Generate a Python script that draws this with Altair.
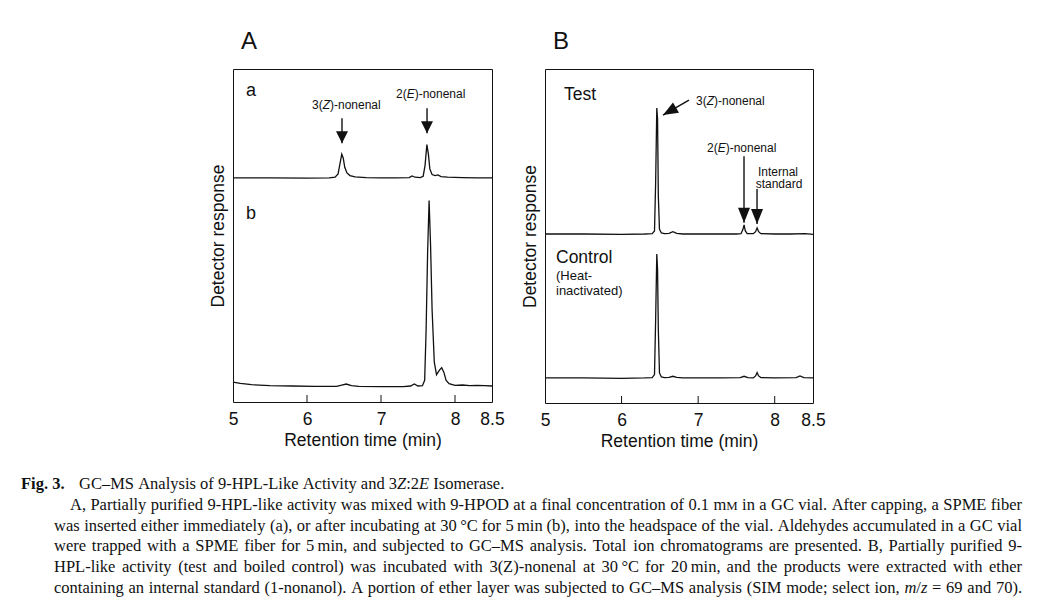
import altair as alt
import pandas as pd

SANS = "Liberation Sans"
SERIF = "Liberation Serif"
INK = "#111111"

# ---------------- data ----------------
# Panel A (time in min, response in arbitrary panel units 0-100)
a_time = [5.0, 5.5, 6.0, 6.3, 6.38, 6.42, 6.445, 6.47, 6.49, 6.51, 6.54, 6.58, 6.65, 6.8, 7.0, 7.2,
          7.38, 7.42, 7.46, 7.53, 7.57, 7.595, 7.62, 7.64, 7.66, 7.69, 7.73, 7.77, 7.81, 7.9, 8.1, 8.3, 8.5]
a_resp = [67.3, 67.3, 67.2, 67.3, 67.5, 68.5, 71.5, 74.4, 73.2, 70.5, 68.8, 68.0, 67.6, 67.4, 67.3, 67.3,
          67.4, 67.9, 67.5, 67.4, 67.8, 71.0, 77.3, 74.5, 70.0, 68.3, 68.0, 68.2, 67.7, 67.5, 67.4, 67.3, 67.3]
b_time = [5.0, 5.1, 5.25, 5.5, 5.8, 6.1, 6.4, 6.47, 6.53, 6.6, 6.7, 7.0, 7.3, 7.4, 7.45, 7.5, 7.56, 7.59,
          7.61, 7.63, 7.65, 7.67, 7.69, 7.72, 7.75, 7.79, 7.82, 7.85, 7.88, 7.92, 8.0, 8.1, 8.2, 8.3, 8.4, 8.5]
b_resp = [6.0, 5.6, 5.2, 4.9, 4.8, 4.7, 4.7, 5.1, 5.4, 4.9, 4.7, 4.6, 4.6, 4.8, 5.4, 4.8, 4.9, 6.5,
          22.0, 45.0, 60.5, 47.0, 28.0, 12.0, 8.2, 9.6, 10.3, 8.9, 6.5, 5.5, 5.0, 5.1, 4.9, 5.0, 4.9, 4.8]

# Panel B
test_time = [5.0, 5.5, 6.0, 6.3, 6.4, 6.43, 6.445, 6.46, 6.47, 6.48, 6.495, 6.52, 6.56, 6.62, 6.67, 6.72,
             6.8, 7.0, 7.3, 7.5, 7.56, 7.585, 7.6, 7.615, 7.64, 7.72, 7.75, 7.77, 7.79, 7.82, 8.0, 8.2, 8.4, 8.5]
test_resp = [50.6, 50.6, 50.5, 50.6, 50.7, 51.5, 66.0, 88.3, 85.0, 62.0, 52.0, 50.9, 50.7, 50.8, 51.3, 50.8,
             50.6, 50.6, 50.6, 50.6, 50.7, 52.0, 53.3, 51.6, 50.7, 50.7, 51.3, 52.4, 51.3, 50.7, 50.6, 50.6, 50.7, 50.5]
ctrl_time = [5.0, 5.5, 6.0, 6.3, 6.4, 6.43, 6.445, 6.46, 6.47, 6.48, 6.495, 6.52, 6.56, 6.62, 6.67, 6.72,
             6.8, 7.0, 7.3, 7.55, 7.6, 7.65, 7.72, 7.75, 7.77, 7.79, 7.82, 8.0, 8.28, 8.33, 8.38, 8.5]
ctrl_resp = [7.5, 7.5, 7.4, 7.5, 7.6, 8.5, 25.0, 44.6, 40.0, 22.0, 9.0, 7.8, 7.6, 7.7, 8.0, 7.7,
             7.5, 7.5, 7.5, 7.6, 8.0, 7.6, 7.5, 8.1, 9.1, 8.1, 7.6, 7.5, 7.6, 8.1, 7.6, 7.5]

x_tick_values = [5, 6, 7, 8, 8.5]
inner_ticks = [6, 7, 8]

# arrows (start time, start resp, tip time, tip resp)
arrA_t = [6.473, 7.622]
arrA_v0 = [85.2, 88.2]
arrA_v1 = [77.7, 80.7]
arrB_t = [7.599, 7.769]
arrB_v0 = [73.9, 64.1]
arrB_v1 = [54.0, 53.6]
diag_t0 = [6.88]
diag_v0 = [90.7]
diag_t1 = [6.541]
diag_v1 = [86.2]

cap_bold = "Fig. 3."
cap_title = "GC\u2013MS Analysis of 9-HPL-Like Activity and 3*Z*:2*E* Isomerase."
cap_lines = [
    "A, Partially purified 9-HPL-like activity was mixed with 9-HPOD at a final concentration of 0.1 m^M^ in a GC vial. After capping, a SPME fiber",
    "was inserted either immediately (a), or after incubating at 30\u2009\u00b0C for 5\u2009min (b), into the headspace of the vial. Aldehydes accumulated in a GC vial",
    "were trapped with a SPME fiber for 5\u2009min, and subjected to GC\u2013MS analysis. Total ion chromatograms are presented. B, Partially purified 9-",
    "HPL-like activity (test and boiled control) was incubated with 3(Z)-nonenal at 30\u2009\u00b0C for 20\u2009min, and the products were extracted with ether",
    "containing an internal standard (1-nonanol). A portion of ether layer was subjected to GC\u2013MS analysis (SIM mode; select ion, *m*/*z* = 69 and 70).",
]

# ---------------- layout constants ----------------
A_W, A_H = 259, 333
B_W, B_H = 268, 334
A_ORIGIN = (232, 68)
CAP_FS = 16.5

one = pd.DataFrame({"k": [0]})

xscale = alt.Scale(domain=[5, 8.5], nice=False, zero=False)
yscale = alt.Scale(domain=[0, 100], nice=False, zero=False)
xaxis = alt.Axis(values=x_tick_values, title="Retention time (min)", labelExpr="'' + datum.value",
                 domain=False, ticks=False, tickSize=0, grid=False, labelFlush=False, labelOverlap=False,
                 labelPadding=8, titlePadding=4, labelFontSize=17.5, titleFontSize=17.5,
                 titleFontWeight="normal", labelColor=INK, titleColor=INK, labelFont=SANS, titleFont=SANS)
yaxis = alt.Axis(title="Detector response", labels=False, ticks=False, domain=False, grid=False,
                 titlePadding=6, titleFontSize=17.5, titleFontWeight="normal", titleColor=INK, titleFont=SANS)


def X(f):
    return alt.X(f, type="quantitative", scale=xscale, axis=xaxis)


def Y(f):
    return alt.Y(f, type="quantitative", scale=yscale, axis=yaxis)


def txt(s, x, y, size, italic=False, font=SANS, weight="normal", align="left"):
    return alt.Chart(one).mark_text(
        text=s, font=font, fontSize=size, fontStyle="italic" if italic else "normal",
        fontWeight=weight, align=align, baseline="alphabetic", color=INK
    ).encode(x=alt.value(x), y=alt.value(y))


HELV = {"2": 556, "3": 556, "(": 333, ")": 333, "Z": 611, "E": 667, "-": 333, "n": 556,
        "o": 556, "e": 556, "a": 556, "l": 222}


def rich(parts, x, y, size):
    out = []
    cx = x
    for s, it in parts:
        out.append(txt(s, cx, y, size, italic=it))
        cx += sum(HELV.get(c, 556) for c in s) * size / 1000
    return out


def nonenal(num, letter, x, y, size=12):
    return rich([(num + "(", False), (letter, True), (")-nonenal", False)], x, y, size)


def panel(traces, w, h, vert, diag, texts, head_path, head_size):
    df = pd.concat([pd.DataFrame({"t": t, "v": v, "trace": n}) for n, t, v in traces])
    layers = []
    layers.append(alt.Chart(df).mark_line(color=INK, strokeWidth=1.3).encode(
        x=X("t"), y=Y("v"), detail="trace:N"))
    ticks = pd.DataFrame({"t": inner_ticks})
    layers.append(alt.Chart(ticks).mark_rule(color=INK, strokeWidth=1).encode(
        x=X("t"), y=alt.value(h), y2=alt.value(h - 7)))
    vt, v0, v1 = vert
    sh = pd.DataFrame({"t": vt, "v": v0, "v2": v1})
    layers.append(alt.Chart(sh).mark_rule(color=INK, strokeWidth=1.4).encode(
        x=X("t"), y=Y("v"), y2="v2"))
    hd = pd.DataFrame({"t": vt, "v": v1})
    layers.append(alt.Chart(hd).mark_point(shape=head_path, size=head_size, filled=True,
                                           fill=INK, strokeWidth=0, opacity=1).encode(x=X("t"), y=Y("v")))
    if diag is not None:
        t0, d0, t1, d1 = diag
        dg = pd.DataFrame({"t": t0, "v": d0, "t2": t1, "v2": d1})
        layers.append(alt.Chart(dg).mark_rule(color=INK, strokeWidth=1.4).encode(
            x=X("t"), x2="t2", y=Y("v"), y2="v2"))
        dh = pd.DataFrame({"t": t1, "v": d1})
        layers.append(alt.Chart(dh).mark_point(shape=head_path, size=head_size, filled=True, angle=60,
                                               fill=INK, strokeWidth=0, opacity=1).encode(x=X("t"), y=Y("v")))
    layers.extend(texts)
    return layers


# ---------------- caption layout ----------------
TIMES = {" ": 250, "!": 333, "(": 333, ")": 333, ",": 250, "-": 333, ".": 250, "/": 278, ":": 278,
         ";": 278, "=": 564, "\u00b0": 400, "\u2013": 500, "\u2009": 167,
         "A": 722, "B": 667, "C": 667, "D": 722, "E": 611, "F": 556, "G": 722, "H": 722, "I": 333,
         "J": 389, "K": 722, "L": 611, "M": 889, "N": 722, "O": 722, "P": 556, "Q": 722, "R": 667,
         "S": 556, "T": 611, "U": 722, "V": 722, "W": 944, "X": 722, "Y": 722, "Z": 611,
         "a": 444, "b": 500, "c": 444, "d": 500, "e": 444, "f": 333, "g": 500, "h": 500, "i": 278,
         "j": 278, "k": 500, "l": 278, "m": 778, "n": 500, "o": 500, "p": 500, "q": 500, "r": 333,
         "s": 389, "t": 278, "u": 500, "v": 500, "w": 722, "x": 500, "y": 500, "z": 444}
for d in "0123456789":
    TIMES[d] = 500
TIMES_I = {"m": 722, "z": 389, "Z": 556, "E": 611}
TIMES_B = {"F": 611, "g": 500}


def seg_w(s, st):
    tab = dict(TIMES)
    if st == "i":
        tab.update(TIMES_I)
    if st == "b":
        tab.update(TIMES_B)
    f = CAP_FS * (0.78 if st == "s" else 1.0)
    return sum(tab.get(c, 500) for c in s) * f / 1000


def parse_words(line, style="r"):
    words = []
    for raw in line.split(" "):
        segs, cur = [], ""
        for ch in raw:
            if ch in "*^":
                if cur:
                    segs.append((cur, style))
                    cur = ""
                tgt = "i" if ch == "*" else "s"
                style = "r" if style == tgt else tgt
            else:
                cur += ch
        if cur:
            segs.append((cur, style))
        words.append(segs)
    return words


tokens = []


def lay(line, x0, x1, y, style="r"):
    words = parse_words(line, style)
    ws = [sum(seg_w(s, st) for s, st in w) for w in words]
    if x1 is None or len(words) < 2:
        gap = 250 * CAP_FS / 1000
    else:
        gap = max(2.0, (x1 - x0 - sum(ws)) / (len(words) - 1))
    cx = x0
    for w, ww in zip(words, ws):
        sx = cx
        for s, st in w:
            tokens.append((sx - A_ORIGIN[0], y - A_ORIGIN[1], s, st))
            sx += seg_w(s, st)
        cx += ww + gap


lay(cap_bold, 20, None, 488, "b")
lay(cap_title, 78, None, 488)
cap_x0 = [69, 53, 53, 53, 53]
for i, ln in enumerate(cap_lines):
    lay(ln, cap_x0[i], 1021, 488 + 20.8 * (i + 1))

tok = pd.DataFrame(tokens, columns=["px", "py", "txt", "st"])
cap_layers = []
for st, kw in {"r": dict(), "i": dict(fontStyle="italic"), "b": dict(fontWeight="bold"),
               "s": dict(fontSize=CAP_FS * 0.78)}.items():
    sub = tok[tok["st"] == st]
    if len(sub) == 0:
        continue
    params = dict(font=SERIF, fontSize=CAP_FS, align="left", baseline="alphabetic", color=INK)
    params.update(kw)
    cap_layers.append(alt.Chart(sub).mark_text(**params).encode(
        x=alt.X("px:Q", scale=None), y=alt.Y("py:Q", scale=None), text="txt:N"))

anchor = alt.Chart(one).mark_rect(opacity=0).encode(
    x=alt.value(-224), x2=alt.value(-223), y=alt.value(-60), y2=alt.value(-59))

HEAD_A = "M-0.5,-1 L0.5,-1 L0,0 Z"
HEAD_B = "M-0.4,-1 L0.4,-1 L0,0 Z"

textsA = [txt("A", 8, -20, 24), txt("a", 13, 27, 18), txt("b", 13, 150, 18)]
textsA += nonenal("3", "Z", 79, 40)
textsA += nonenal("2", "E", 163, 29)
layersA = [anchor] + panel([("a", a_time, a_resp), ("b", b_time, b_resp)], A_W, A_H,
                           (arrA_t, arrA_v0, arrA_v1), None, textsA, HEAD_A, 576) + cap_layers
chartA = alt.layer(*layersA).properties(width=A_W, height=A_H)

textsB = [txt("B", 8, -20, 24), txt("Test", 19, 31, 17.5), txt("Control", 11, 194, 17.5),
          txt("(Heat-", 11, 211, 13), txt("inactivated)", 11, 226, 13),
          txt("Internal", 233, 107, 12, align="center"), txt("standard", 234, 119, 12, align="center")]
textsB += nonenal("3", "Z", 151, 35.5)
textsB += nonenal("2", "E", 162, 83)
layersB = panel([("test", test_time, test_resp), ("ctrl", ctrl_time, ctrl_resp)], B_W, B_H,
                (arrB_t, arrB_v0, arrB_v1), (diag_t0, diag_v0, diag_t1, diag_v1), textsB, HEAD_B, 900)
chartB = alt.layer(*layersB).properties(width=B_W, height=B_H)

chart = alt.hconcat(chartA, chartB, spacing=53, bounds="flush").properties(
    padding=0, background="white"
).configure_view(stroke=INK, strokeWidth=1)

chart.save("out.html", embed_options={"renderer": "svg", "actions": False})
